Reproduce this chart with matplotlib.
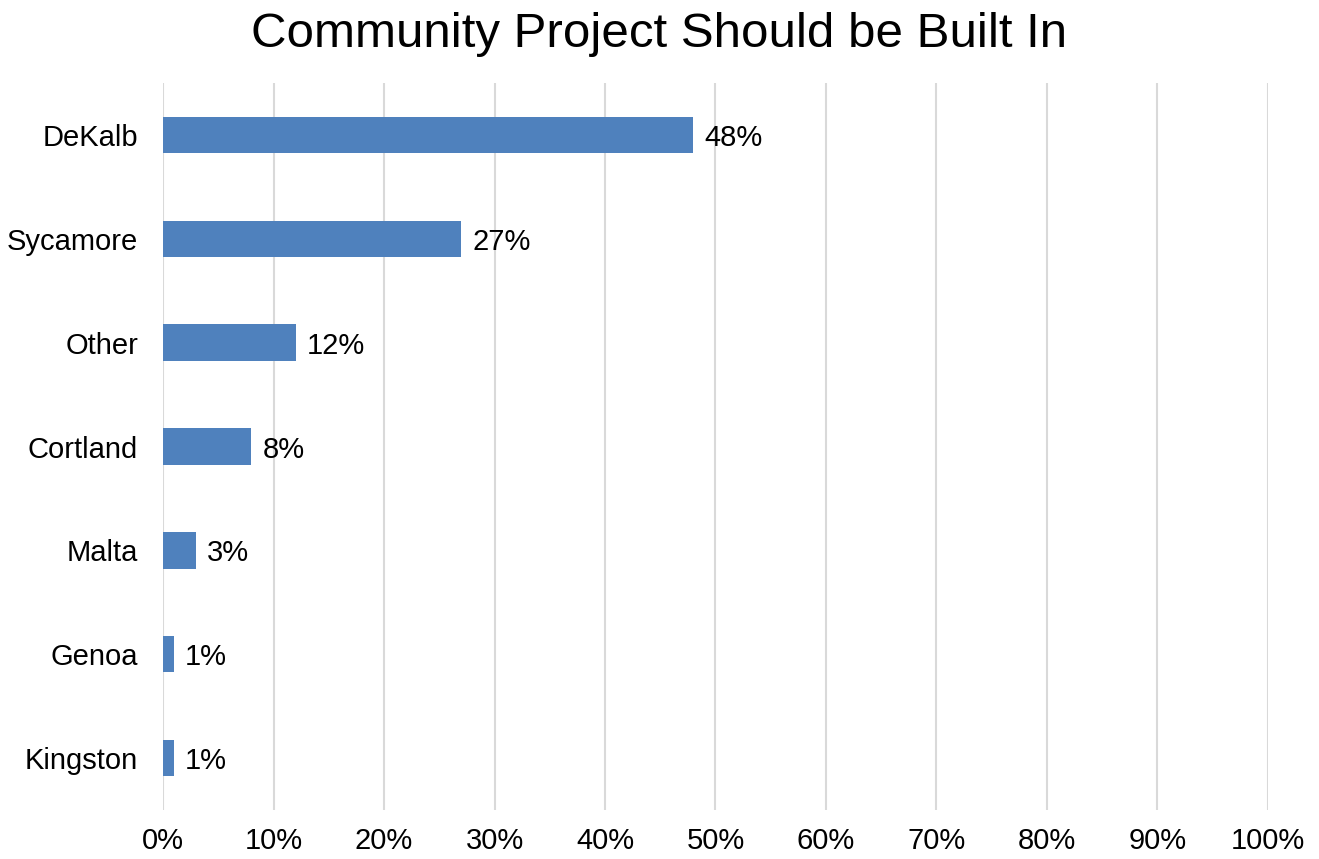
import matplotlib.pyplot as plt

plt.rcParams['font.family'] = ['Liberation Sans', 'DejaVu Sans']

towns = ['DeKalb', 'Sycamore', 'Other', 'Cortland', 'Malta', 'Genoa', 'Kingston']
share = [48, 27, 12, 8, 3, 1, 1]
ticks = [0, 10, 20, 30, 40, 50, 60, 70, 80, 90, 100]

fig = plt.figure(figsize=(13.19, 8.59), dpi=100)
ax = fig.add_axes([0.1236, 0.057, 0.9613 - 0.1236, 0.9034 - 0.057])

pos = list(range(len(towns)))
ax.barh(pos, share, height=0.35, color='#4f81bd', zorder=3)
for p, v in zip(pos, share):
    ax.annotate(f'{v}%', (v, p), xytext=(8, 0), textcoords='offset points',
                va='center_baseline', ha='left', fontsize=21, color='black')

ax.set_xlim(0, 100)
ax.set_ylim(len(towns) - 0.5, -0.5)
ax.set_yticks(pos)
ax.set_yticklabels(towns, va='center_baseline')
ax.set_xticks(ticks)
ax.set_xticklabels([f'{t}%' for t in ticks])
ax.tick_params(axis='both', length=0, labelsize=21, colors='black')
ax.tick_params(axis='y', pad=18)
ax.tick_params(axis='x', pad=12)

ax.grid(axis='x', color='#d9d9d9', linewidth=1.5, zorder=0)
for s in ax.spines.values():
    s.set_visible(False)

fig.text(0.5, 1 - 47 / 859, 'Community Project Should be Built In',
         ha='center', va='baseline', fontsize=35.5, color='black')

fig.savefig('out.png')
